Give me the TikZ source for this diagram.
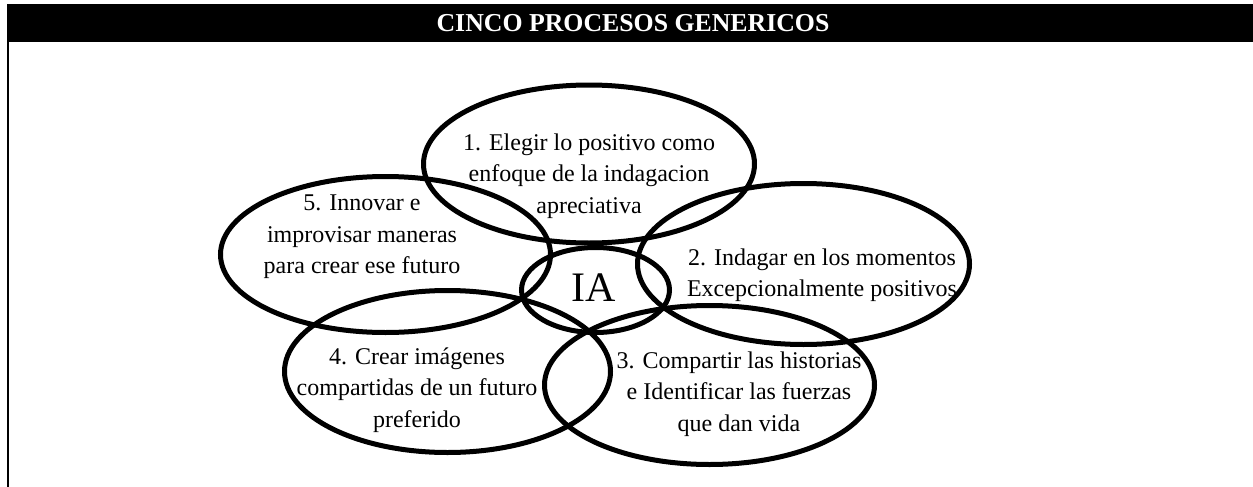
\documentclass[tikz,border=0pt]{standalone}
\usepackage{fontspec}
\setmainfont{Liberation Serif}
\usepackage{tikz}
\usetikzlibrary{positioning, shapes.geometric}

\begin{document}
\begin{tikzpicture}[x=0.5pt, y=-0.5pt,
        proc/.style={ellipse, draw, line width=2.5pt, inner sep=0pt},
        proctext/.style={align=center, inner sep=0pt, font=\fontsize{12pt}{15.75pt}\selectfont}]
        \useasboundingbox (0,0) rectangle (1253,487);
        \fill[black] (7,4) rectangle (1253,42);
        \node[text=white, font=\bfseries\fontsize{12.9pt}{14pt}\selectfont] (title) at (633,23) {CINCO PROCESOS GENERICOS};
        \draw[line width=1pt] (8,42) -- (8,487);
        % ellipses
        \node[proc, minimum width=165.5pt, minimum height=79pt] (e1) at (589,164) {};
        \node[proc, minimum width=166pt, minimum height=80.5pt] (e2) at (803.5,264) {};
        \node[proc, minimum width=165pt, minimum height=79.5pt] (e3) at (709.5,385) {};
        \node[proc, minimum width=163pt, minimum height=81pt] (e4) at (447.5,371.5) {};
        \node[proc, minimum width=165pt, minimum height=78pt] (e5) at (385.5,254.5) {};
        \node[proc, minimum width=74pt, minimum height=42.5pt] (ia) at (595.5,290) {};
        % texts
        \node[proctext] (t1) at (589,176) {1. Elegir lo positivo como\\enfoque de la indagacion\\apreciativa};
        \node[proctext] (t2) at (822,275) {2. Indagar en los momentos\\Excepcionalmente positivos};
        \node[proctext] (t3) at (739,394) {3. Compartir las historias\\e Identificar las fuerzas\\que dan vida};
        \node[proctext] (t4) at (417,390) {4. Crear imágenes\\compartidas de un futuro\\preferido};
        \node[proctext] (t5) at (362,237) {5. Innovar e\\improvisar maneras\\para crear ese futuro};
        \node[font=\fontsize{21pt}{24pt}\selectfont, inner sep=0pt] (tia) at (594,288) {IA};
\end{tikzpicture}
\end{document}
